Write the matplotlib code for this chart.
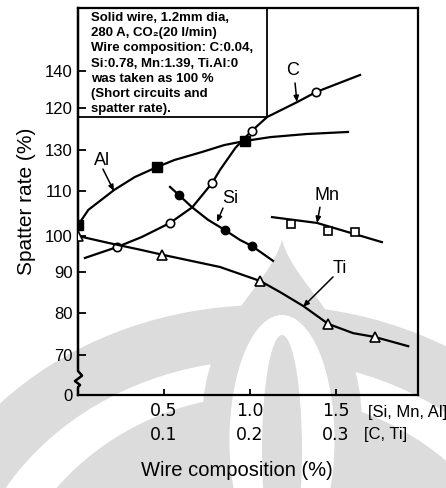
import numpy as np
import matplotlib
matplotlib.use("Agg")
import matplotlib.pyplot as plt
from matplotlib.patches import Ellipse, PathPatch
from matplotlib.path import Path
from matplotlib.transforms import Affine2D

# --- data ---
# Si, Mn, Al use the upper x scale; C and Ti the lower one
al_x = [0.0, 0.06, 0.21, 0.33, 0.46, 0.56, 0.72, 0.85, 0.97, 1.12, 1.33, 1.57]
al_y = [102.4, 105.8, 110.5, 116.8, 121.7, 125.1, 129.0, 132.4, 134.4, 136.3, 137.8, 138.8]
al_mx = [0.0, 0.46, 0.97]
al_my = [102.4, 121.7, 134.4]

si_x = [0.535, 0.587, 0.663, 0.756, 0.855, 0.942, 1.012, 1.134]
si_y = [112.0, 109.1, 106.4, 103.6, 101.3, 98.9, 97.2, 93.1]
si_mx = [0.587, 0.855, 1.012]
si_my = [109.1, 101.3, 97.2]

mn_x = [1.128, 1.39, 1.767]
mn_y = [104.2, 102.9, 98.3]
mn_mx = [1.238, 1.453, 1.610]
mn_my = [102.7, 101.1, 100.9]

c_x = [0.008, 0.045, 0.074, 0.107, 0.133, 0.156, 0.165, 0.183, 0.194, 0.202, 0.220, 0.255, 0.277, 0.328]
c_y = [93.9, 96.9, 99.7, 102.9, 106.4, 113.9, 120.2, 131.0, 135.9, 139.3, 146.1, 153.4, 158.3, 166.6]
c_mx = [0.045, 0.107, 0.156, 0.202, 0.277]
c_my = [96.9, 102.9, 113.9, 139.3, 158.3]

ti_x = [0.0, 0.035, 0.074, 0.098, 0.165, 0.212, 0.235, 0.262, 0.291, 0.320, 0.345, 0.384]
ti_y = [100.0, 98.1, 96.1, 94.8, 91.4, 87.8, 85.1, 81.7, 77.4, 75.2, 74.3, 72.1]
ti_mx = [0.0, 0.098, 0.212, 0.291, 0.345]
ti_my = [100.0, 94.8, 87.8, 77.4, 74.3]

si_ticks = [0.5, 1.0, 1.5]
c_ticks = [0.1, 0.2, 0.3]
y_ticks = [0, 70, 80, 90, 100, 110, 130]
upper_pos = [150.5, 168.5]
upper_labels = ["120", "140"]

note = ("Solid wire, 1.2mm dia,\n280 A, CO\u2082(20 l/min)\nWire composition: C:0.04,\n"
        "Si:0.78, Mn:1.39, Ti.Al:0\nwas taken as 100 %\n(Short circuits and\nspatter rate).")

# broken y axis: value -> height anchors
y_vals = [0, 70, 80, 90, 100, 110, 130, 200]
y_h = [0, 40, 82, 123, 159, 204, 245, 388.5]
fwd = lambda v: np.interp(v, y_vals, y_h)
inv = lambda h: np.interp(h, y_h, y_vals)

plt.rcParams['font.family'] = ['Liberation Sans', 'DejaVu Sans']

fig = plt.figure(figsize=(4.46, 4.88), dpi=100)

# faint watermark behind the chart (pixel coords, y down)
px = Affine2D().scale(1 / 446, -1 / 488).translate(0, 1) + fig.transFigure
grey = '#dcdcdc'
for (cx, cy, w, h, col) in [(265, 610, 720, 610, grey), (265, 630, 610, 540, 'white'),
                             (265, 650, 540, 510, grey)]:
    fig.add_artist(Ellipse((cx, cy), w, h, transform=px, fc=col, ec='none', zorder=-5))
dome = Path([(282, 240), (296, 290), (360, 320), (362, 420), (362, 480), (320, 500), (282, 500),
             (244, 500), (202, 480), (202, 420), (204, 320), (268, 290), (282, 240)],
            [Path.MOVETO] + [Path.CURVE4] * 12)
fig.add_artist(PathPatch(dome, transform=px, fc=grey, ec='none', zorder=-4))
fig.add_artist(Ellipse((282, 440), 105, 250, transform=px, fc='white', ec='none', zorder=-3))
fig.add_artist(Ellipse((282, 450), 40, 230, transform=px, fc=grey, ec='none', zorder=-2))

ax = fig.add_axes([78 / 446, 93 / 488, 340 / 446, 387 / 488])
ax.set_facecolor('none')
ax.set_yscale('function', functions=(fwd, inv))
xmax = 1.977
ax.set_xlim(0, xmax)
ax.set_ylim(0, inv(387))

ax_c = ax.twiny()
ax_c.set_xlim(0, xmax / 5)
ax_c.axis('off')

lw = 1.6
ax.plot(al_x, al_y, color='black', lw=lw)
ax.plot(al_mx, al_my, 's', color='black', ms=6.5)
ax.plot(si_x, si_y, color='black', lw=lw)
ax.plot(si_mx, si_my, 'o', color='black', ms=6)
ax.plot(mn_x, mn_y, color='black', lw=lw)
ax.plot(mn_mx, mn_my, 's', mfc='white', mec='black', mew=1.2, ms=6)
ax_c.plot(c_x, c_y, color='black', lw=lw)
ax_c.plot(c_mx, c_my, 'o', mfc='white', mec='black', mew=1.2, ms=6)
ax_c.plot(ti_x, ti_y, color='black', lw=lw)
ax_c.plot(ti_mx, ti_my, '^', mfc='white', mec='black', mew=1.2, ms=7.5)

# curve labels with leader lines
labels = [("C", (1.25, 169), (1.262, 162.7), (1.273, 153.4)),
          ("Al", (0.14, 125.1), (0.145, 120.7), (0.209, 110.0)),
          ("Si", (0.884, 108.4), (0.843, 106.2), (0.808, 103.1)),
          ("Mn", (1.448, 109.1), (1.407, 106.4), (1.390, 102.9)),
          ("Ti", (1.523, 91.1), (1.483, 88.8), (1.308, 81.5))]
for name, pos, start, end in labels:
    ax.text(pos[0], pos[1], name, fontsize=13, ha='center', va='center')
    ax.annotate('', xy=end, xytext=start,
                arrowprops=dict(arrowstyle='-|>,head_length=0.35,head_width=0.15',
                                color='black', lw=1.1, shrinkA=0, shrinkB=0))

# frame
for s in ['top', 'right', 'bottom']:
    ax.spines[s].set_linewidth(1.6)
ax.spines['left'].set_visible(False)
bx = [0, 0, 0.012, -0.009, 0.006, 0, 0]
by = [1, 0.062, 0.050, 0.036, 0.026, 0.02, 0]
ax.plot(bx, by, color='black', lw=1.8, transform=ax.transAxes, clip_on=False)

# note box
box_r = (267 - 78) / 340
box_b = (395 - 117) / 387
ax.plot([0, box_r, box_r], [box_b, box_b, 1], color='black', lw=1.3, transform=ax.transAxes)
ax.text(13 / 340, 1 - 4 / 387, note, transform=ax.transAxes, fontsize=9.5, fontweight='bold',
        va='top', ha='left', linespacing=1.36)

# y ticks
ax.set_yticks(y_ticks + upper_pos)
ax.set_yticklabels([str(v) for v in y_ticks] + upper_labels)
ax.tick_params(axis='y', direction='in', length=6, width=1.3, pad=4, labelsize=12)
ax.set_ylabel("Spatter rate (%)", fontsize=15, labelpad=6)

# x ticks: two scales
ax.set_xticks(si_ticks)
ax.set_xticklabels([f"{v:.1f}" for v in si_ticks], family='DejaVu Sans')
ax.tick_params(axis='x', direction='in', length=4, width=1.3, pad=5, labelsize=12.5)
sec = ax.secondary_xaxis('bottom', functions=(lambda x: x / 5, lambda x: x * 5))
sec.set_xticks(c_ticks)
sec.set_xticklabels([f"{v:.1f}" for v in c_ticks], family='DejaVu Sans')
sec.tick_params(length=0, pad=22, labelsize=12.5)
sec.spines['bottom'].set_visible(False)

fig.text(368 / 446, 1 - 412 / 488, "[Si, Mn, Al]", fontsize=12, va='center', ha='left')
fig.text(364 / 446, 1 - 434 / 488, "[C, Ti]", fontsize=12, va='center', ha='left')
fig.text(237 / 446, 1 - 471 / 488, "Wire composition (%)", fontsize=14.5, va='center', ha='center')

fig.savefig("out.png", dpi=100)
